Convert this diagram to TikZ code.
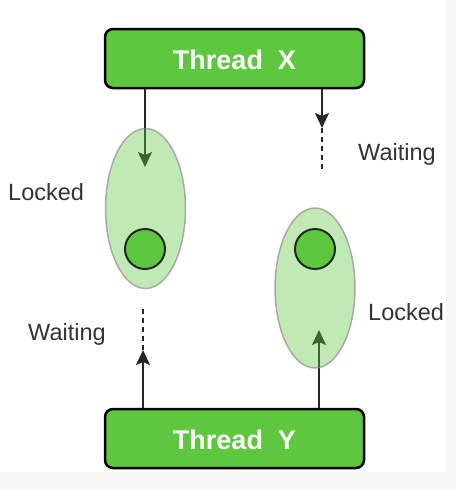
\documentclass[tikz,border=0pt]{standalone}
\usepackage{fontspec}
\setmainfont{Liberation Sans}
\usetikzlibrary{arrows.meta,shapes.geometric}
\definecolor{thrgreen}{HTML}{5DC73E}
\definecolor{lblgray}{HTML}{333333}

\begin{document}
\begin{tikzpicture}[x=1pt,y=-1pt,
thread/.style={rectangle, rounded corners=8pt, draw=black, line width=2.5pt, fill=thrgreen, minimum width=259pt, minimum height=59pt, text height=22pt, text depth=0pt, text=white, font=\fontsize{27}{32}\selectfont\bfseries},
lock/.style={ellipse, draw=black!50, draw opacity=0.6, line width=1.5pt, fill=thrgreen, fill opacity=0.38, minimum width=80pt, minimum height=160pt, inner sep=0pt},
res/.style={circle, draw=black!85, line width=2pt, fill=thrgreen, minimum size=40pt, inner sep=0pt},
lbl/.style={anchor=base west, inner sep=0pt, text=lblgray, font=\fontsize{23.5}{28}\selectfont},
arr/.style={-{Stealth[length=15pt,width=14pt,inset=3pt]}, line width=1.6pt, black!85},
wait/.style={dash pattern=on 5pt off 4pt, line width=1.6pt, black!85}]

\fill[black!3] (0,0) rectangle (456,490);
\fill[white] (0,0) rectangle (446,472);
\useasboundingbox (0,0) rectangle (456,490);

\node[thread] (threadX) at (234.5,58.5) {Thread\ \ X};
\node[thread] (threadY) at (234.5,438.5) {Thread\ \ Y};

\coordinate (xlock) at (145,167);
\coordinate (xwait) at (322,128);
\coordinate (xwaitend) at (322,170);
\coordinate (ywait) at (143,350);
\coordinate (ywaitend) at (143,308);
\coordinate (ylock) at (319,330);

\draw[arr] (threadX.south -| xlock) -- (xlock);
\draw[arr] (threadX.south -| xwait) -- (xwait);
\draw[wait] (xwait) -- (xwaitend);
\draw[arr] (threadY.north -| ywait) -- (ywait);
\draw[wait] (ywait) -- (ywaitend);
\draw[arr] (threadY.north -| ylock) -- (ylock);

\node[lock] (lockA) at (145.5,208.5) {};
\node[lock] (lockB) at (315,288) {};
\node[res] (resA) at (145,249) {};
\node[res] (resB) at (315,249) {};

\node[lbl] (lockedA) at (8,200) {Locked};
\node[lbl] (waitingX) at (358,160) {Waiting};
\node[lbl] (waitingY) at (28,340) {Waiting};
\node[lbl] (lockedB) at (368,320) {Locked};
\end{tikzpicture}
\end{document}
